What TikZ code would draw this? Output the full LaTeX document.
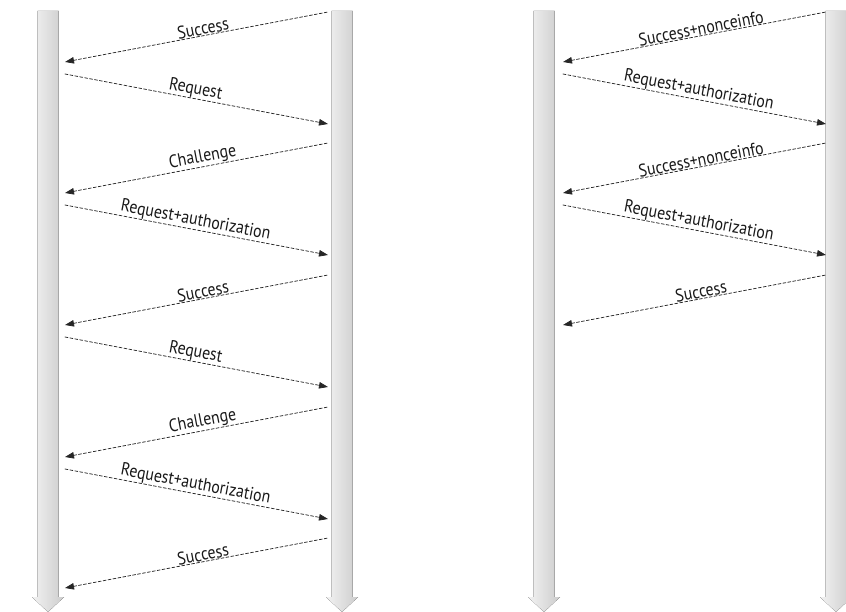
\documentclass[tikz,border=0pt]{standalone}
\usepackage{fontspec}
\setmainfont{PT Sans}[FakeStretch=0.88]
\usetikzlibrary{arrows.meta}

\tikzset{
  lifeline/.style={left color=black!5,middle color=black!13,right color=black!20,draw=none},
  request/.style={densely dashed,line width=0.75pt,draw=black!85,-{Triangle[length=9pt,width=6.5pt]}},
  reply/.style={densely dashed,line width=0.75pt,draw=black!85,{Triangle[length=9pt,width=6.5pt]}-},
  msglabel/.style={font=\fontsize{18}{20}\selectfont,sloped,above,inner sep=0.5pt,text=black!90}
}

\begin{document}
\begin{tikzpicture}[x=1pt,y=-1pt,line cap=round,line join=round]
  \useasboundingbox (0,0) rectangle (846,612);

  % Lifelines: four shaded bars ending in a point.
  \foreach \lx in {48,342,544,836} {
    \fill[lifeline] ({\lx-10.5},11) -- ({\lx+10.5},11) -- ({\lx+10.5},597)
      -- ({\lx+16},597) -- (\lx,612) -- ({\lx-16},597) -- ({\lx-10.5},597) -- cycle;
  }

  % Panel 1: every request challenged.
  \foreach \txt/\y [count=\i] in {Success/12,Challenge/143,Success/275,Challenge/407,Success/538} {
    \coordinate (Lrs\i) at (328,\y);
    \coordinate (Lre\i) at (65,\y+50);
    \draw[reply] (Lre\i) -- node[msglabel,pos=0.53] {\txt} (Lrs\i);
  }
  \foreach \txt/\y [count=\i] in {Request/74,Request+authorization/205,Request/337,Request+authorization/469} {
    \coordinate (Lqs\i) at (65,\y);
    \coordinate (Lqe\i) at (328,\y+50);
    \draw[request] (Lqs\i) -- node[msglabel,pos=0.49] {\txt} (Lqe\i);
  }

  % Panel 2: nonce info sent ahead.
  \foreach \txt/\y [count=\i] in {Success+nonceinfo/12,Success+nonceinfo/143,Success/275} {
    \coordinate (Rrs\i) at (826,\y);
    \coordinate (Rre\i) at (563,\y+50);
    \draw[reply] (Rre\i) -- node[msglabel,pos=0.53] {\txt} (Rrs\i);
  }
  \foreach \txt/\y [count=\i] in {Request+authorization/74,Request+authorization/205} {
    \coordinate (Rqs\i) at (563,\y);
    \coordinate (Rqe\i) at (826,\y+50);
    \draw[request] (Rqs\i) -- node[msglabel,pos=0.51] {\txt} (Rqe\i);
  }
\end{tikzpicture}
\end{document}
